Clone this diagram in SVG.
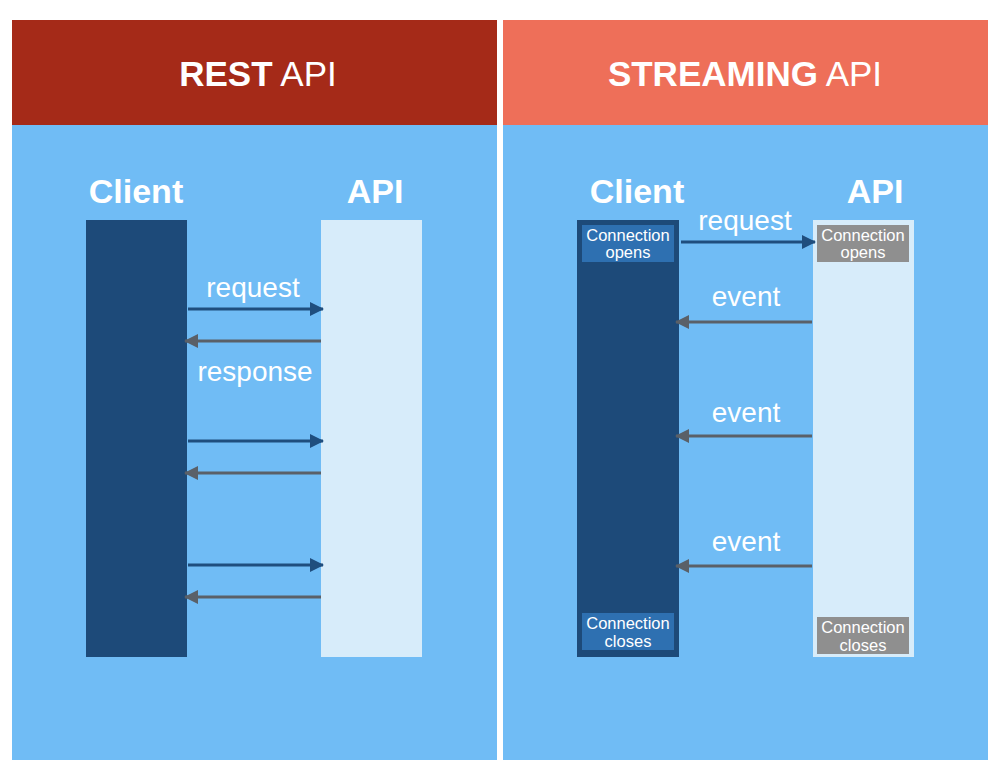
<svg xmlns="http://www.w3.org/2000/svg" width="1000" height="774" viewBox="0 0 1000 774">
<style>
text{font-family:"Liberation Sans",Arial,sans-serif;fill:#fff}
.h{font-size:35px;text-anchor:middle}
.t{font-size:34px;font-weight:bold;text-anchor:middle}
.l{font-size:28px;text-anchor:middle}
.s{font-size:16.5px;text-anchor:middle}
.req{stroke:#1f4e7e;stroke-width:3;fill:none}
.res{stroke:#5a6068;stroke-width:3;fill:none}
</style>
<defs>
<marker id="ab" markerWidth="14" markerHeight="14" refX="13" refY="7" orient="auto" markerUnits="userSpaceOnUse" viewBox="0 0 14 14"><path d="M0,0 L14,7 L0,14 Z" fill="#1f4e7e"/></marker>
<marker id="ag" markerWidth="14" markerHeight="14" refX="13" refY="7" orient="auto" markerUnits="userSpaceOnUse" viewBox="0 0 14 14"><path d="M0,0 L14,7 L0,14 Z" fill="#5a6068"/></marker>
</defs>
<rect width="1000" height="774" fill="#fff"/>
<g id="rest-panel">
<rect x="12" y="20" width="485" height="105" fill="#a52a18"/>
<rect x="12" y="125" width="485" height="635" fill="#70bcf5"/>
<text class="h" x="258" y="86"><tspan font-weight="bold">REST</tspan> API</text>
</g>
<g id="stream-panel">
<rect x="503" y="20" width="485" height="105" fill="#ee6f59"/>
<rect x="503" y="125" width="485" height="635" fill="#70bcf5"/>
<text class="h" x="745" y="86"><tspan font-weight="bold">STREAMING</tspan> API</text>
</g>
<g id="rest-client">
<rect x="86" y="220" width="101" height="437" fill="#1d4a79"/>
<text class="t" x="136" y="203">Client</text>
</g>
<g id="rest-api">
<rect x="321" y="220" width="101" height="437" fill="#d7ecfa"/>
<text class="t" x="375" y="203">API</text>
</g>
<g id="stream-client">
<rect x="577" y="220" width="102" height="437" fill="#1d4a79"/>
<text class="t" x="637" y="203">Client</text>
<rect x="582" y="225" width="92" height="37" fill="#2e70b1"/>
<text class="s" x="628" y="241">Connection</text>
<text class="s" x="628" y="258">opens</text>
<rect x="582" y="613" width="92" height="37" fill="#2e70b1"/>
<text class="s" x="628" y="629">Connection</text>
<text class="s" x="628" y="647">closes</text>
</g>
<g id="stream-api">
<rect x="813" y="220" width="101" height="437" fill="#d7ecfa"/>
<text class="t" x="875" y="203">API</text>
<rect x="817" y="225" width="92" height="37" fill="#8f8f8f"/>
<text class="s" x="863" y="241">Connection</text>
<text class="s" x="863" y="258">opens</text>
<rect x="817" y="617" width="92" height="37" fill="#8f8f8f"/>
<text class="s" x="863" y="633">Connection</text>
<text class="s" x="863" y="651">closes</text>
</g>
<g id="connectors">
<line class="req" x1="188" y1="309" x2="323" y2="309" marker-end="url(#ab)"/>
<line class="res" x1="321" y1="341" x2="185" y2="341" marker-end="url(#ag)"/>
<line class="req" x1="188" y1="441" x2="323" y2="441" marker-end="url(#ab)"/>
<line class="res" x1="321" y1="473" x2="185" y2="473" marker-end="url(#ag)"/>
<line class="req" x1="188" y1="565" x2="323" y2="565" marker-end="url(#ab)"/>
<line class="res" x1="321" y1="597" x2="185" y2="597" marker-end="url(#ag)"/>
<line class="req" x1="681" y1="242" x2="815" y2="242" marker-end="url(#ab)"/>
<line class="res" x1="812" y1="322" x2="676" y2="322" marker-end="url(#ag)"/>
<line class="res" x1="812" y1="436" x2="676" y2="436" marker-end="url(#ag)"/>
<line class="res" x1="812" y1="566" x2="676" y2="566" marker-end="url(#ag)"/>
<text class="l" x="253" y="297">request</text>
<text class="l" x="255" y="381">response</text>
<text class="l" x="745" y="230">request</text>
<text class="l" x="746" y="306">event</text>
<text class="l" x="746" y="422">event</text>
<text class="l" x="746" y="551">event</text>
</g>
</svg>
